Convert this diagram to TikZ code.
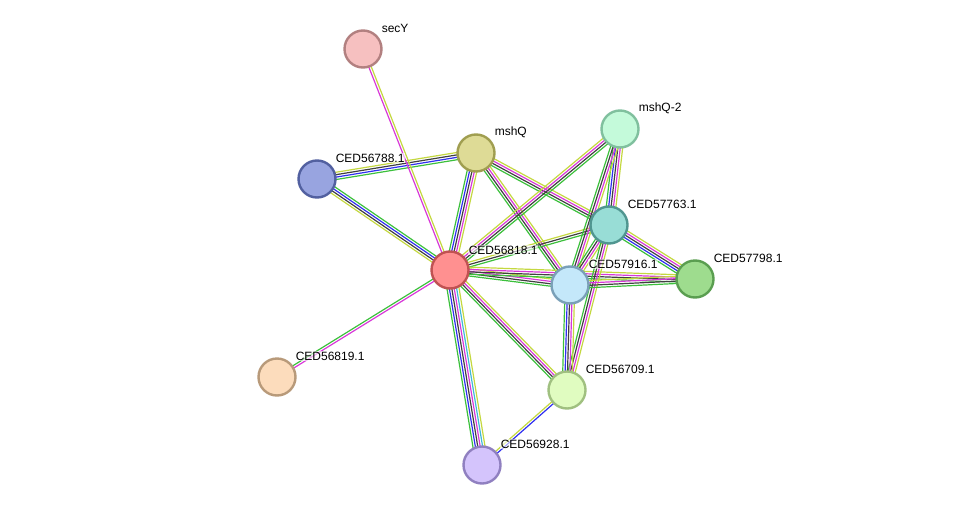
\documentclass[tikz,border=0pt]{standalone}
\usepackage{fontspec}
\setmainfont{Liberation Sans}
\usetikzlibrary{calc}
\pgfdeclarelayer{background}
\pgfsetlayers{background,main}
\definecolor{eG}{HTML}{3CC03C}
\definecolor{eB}{HTML}{3030F0}
\definecolor{eK}{HTML}{404040}
\definecolor{eM}{HTML}{D838D8}
\definecolor{eC}{HTML}{40B8D8}
\definecolor{eY}{HTML}{C4D840}
\newcommand\stredge[4]{%
  \foreach \c [count=\i] in {#4}{%
    \pgfmathsetmacro\off{(\i-(#3+1)/2)*2.4}%
    \draw[\c, line width=1.2pt] ($(#1.center)!\off pt!90:(#2.center)$) -- ($(#2.center)!\off pt!-90:(#1.center)$);
  }}
\tikzset{
  prot/.style={circle, minimum size=37pt, inner sep=0pt, line width=2.4pt},
  lab/.style={font=\fontsize{12pt}{14pt}\selectfont, anchor=west, fill=white, fill opacity=0.6, text opacity=1, inner sep=0.6pt}
}
\begin{document}
\begin{tikzpicture}[x=1pt,y=-1pt]
\useasboundingbox (0,0) rectangle (976,511);
% nodes
\node[prot, fill={rgb,255:red,246;green,192;blue,192}, draw={rgb,255:red,178;green,128;blue,128}] (secY) at (363,49) {};
\node[prot, fill={rgb,255:red,222;green,219;blue,150}, draw={rgb,255:red,160;green,158;blue,80}] (mshQ) at (476,153) {};
\node[prot, fill={rgb,255:red,152;green,164;blue,224}, draw={rgb,255:red,82;green,96;blue,160}] (c788) at (317,179) {};
\node[prot, fill={rgb,255:red,196;green,250;blue,218}, draw={rgb,255:red,128;green,192;blue,158}] (mshQ2) at (620,129) {};
\node[prot, fill={rgb,255:red,152;green,221;blue,214}, draw={rgb,255:red,80;green,150;blue,144}] (c763) at (609,225) {};
\node[prot, fill={rgb,255:red,255;green,144;blue,144}, draw={rgb,255:red,192;green,82;blue,82}] (c818) at (450,270) {};
\node[prot, fill={rgb,255:red,196;green,232;blue,250}, draw={rgb,255:red,122;green,160;blue,184}] (c916) at (570,285) {};
\node[prot, fill={rgb,255:red,158;green,220;blue,142}, draw={rgb,255:red,90;green,158;blue,80}] (c798) at (695,279) {};
\node[prot, fill={rgb,255:red,252;green,220;blue,188}, draw={rgb,255:red,184;green,154;blue,122}] (c819) at (277,377) {};
\node[prot, fill={rgb,255:red,224;green,252;blue,192}, draw={rgb,255:red,160;green,192;blue,128}] (c709) at (567,390) {};
\node[prot, fill={rgb,255:red,212;green,196;blue,252}, draw={rgb,255:red,144;green,128;blue,192}] (c928) at (482,465) {};
% edges
\begin{pgfonlayer}{background}
\stredge{c788}{mshQ}{4}{eG,eB,eK,eY}
\stredge{c788}{c818}{4}{eY,eK,eB,eG}
\stredge{secY}{c818}{2}{eM,eY}
\stredge{mshQ}{c818}{5}{eG,eB,eK,eM,eY}
\stredge{mshQ}{c916}{4}{eG,eK,eM,eY}
\stredge{mshQ}{c763}{4}{eG,eK,eM,eY}
\stredge{c818}{mshQ2}{4}{eG,eK,eM,eY}
\stredge{c818}{c763}{3}{eG,eK,eY}
\stredge{c818}{c916}{4}{eG,eK,eM,eY}
\stredge{c818}{c798}{4}{eG,eK,eM,eY}
\stredge{c818}{c709}{4}{eG,eK,eM,eY}
\stredge{c818}{c928}{6}{eG,eB,eK,eM,eC,eY}
\stredge{c818}{c819}{2}{eG,eM}
\stredge{mshQ2}{c763}{5}{eG,eB,eK,eM,eY}
\stredge{mshQ2}{c916}{4}{eG,eK,eM,eY}
\stredge{c763}{c798}{5}{eG,eB,eK,eM,eY}
\stredge{c763}{c916}{4}{eG,eK,eM,eY}
\stredge{c763}{c709}{4}{eG,eK,eM,eY}
\stredge{c916}{c798}{4}{eG,eK,eM,eY}
\stredge{c916}{c709}{5}{eG,eB,eK,eM,eY}
\stredge{c709}{c928}{2}{eY,eB}
\end{pgfonlayer}
% labels
\node[lab] (lsecY) at (381,28) {secY};
\node[lab] (lmshQ) at (494,132) {mshQ};
\node[lab] (l788) at (335,158) {CED56788.1};
\node[lab] (lmshQ2) at (638,108) {mshQ-2};
\node[lab] (l763) at (627,204) {CED57763.1};
\node[lab] (l818) at (468,250) {CED56818.1};
\node[lab] (l916) at (588,264) {CED57916.1};
\node[lab] (l798) at (713,258) {CED57798.1};
\node[lab] (l819) at (295,356) {CED56819.1};
\node[lab] (l709) at (585,369) {CED56709.1};
\node[lab] (l928) at (500,444) {CED56928.1};
\end{tikzpicture}
\end{document}
